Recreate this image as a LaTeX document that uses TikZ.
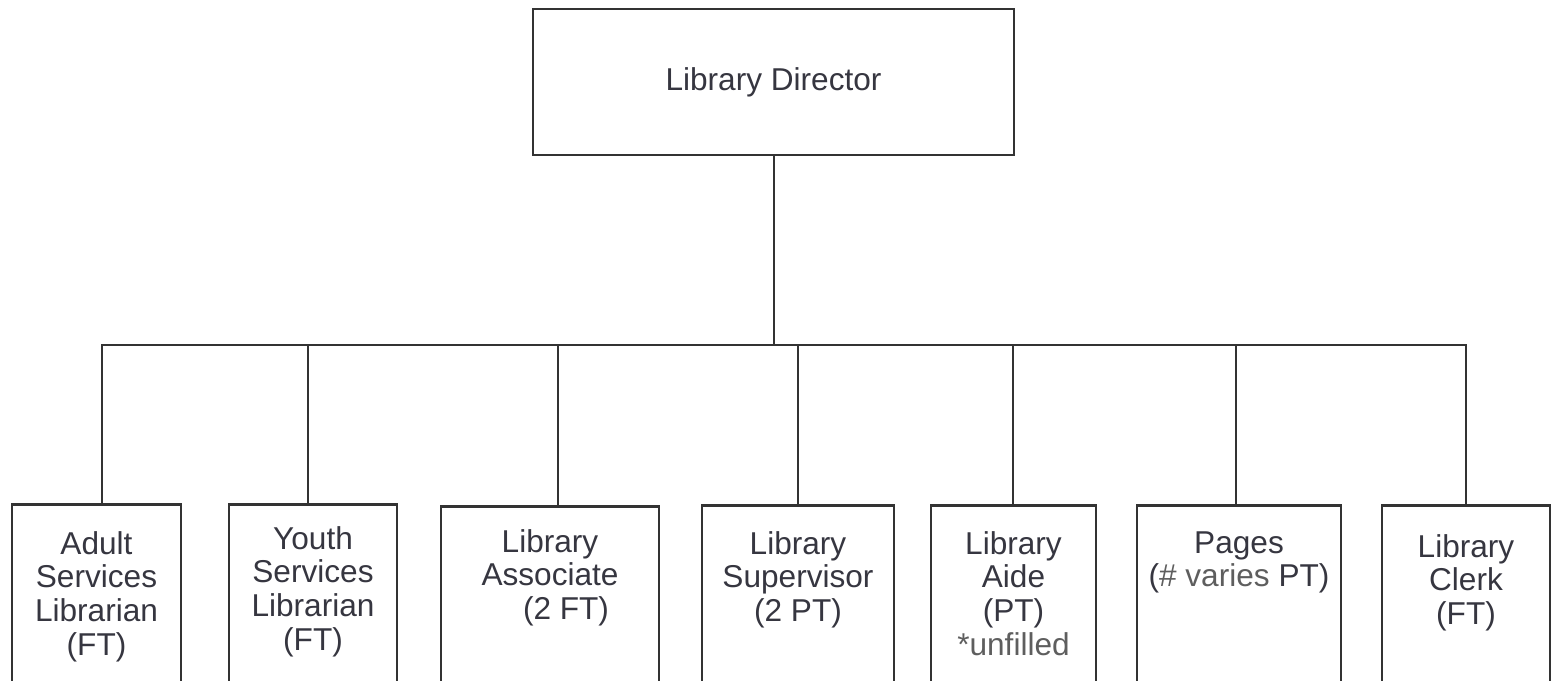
\documentclass[tikz,border=0pt]{standalone}
\usepackage{fontspec}
\setmainfont{Liberation Sans}
\usepackage{xcolor}
\usetikzlibrary{positioning}

\definecolor{linegray}{HTML}{333333}
\definecolor{textgray}{HTML}{363640}
\definecolor{softgray}{HTML}{5E5E5E}

\begin{document}
\begin{tikzpicture}[x=0.5pt,y=-0.5pt,-,line width=1.4pt,
    box/.style={draw=linegray,rectangle,inner sep=0pt},
    staff box/.style={box,anchor=north,minimum height=100pt},
    role/.style={inner sep=0pt,anchor=north,align=center,text=textgray,font=\fontsize{15.8}{16.8}\selectfont}]
    \clip (0,0) rectangle (1551,680);

    % top
    \node[box, minimum width=240.5pt, minimum height=73pt, text=textgray,
          font=\fontsize{15.8}{16.8}\selectfont] (dir) at (773.5,82) {Library Director};

    % staff boxes
    \node[staff box, minimum width=84.5pt] (adult) at (96.5,503) {};
    \node[staff box, minimum width=84pt] (youth) at (313,503) {};
    \node[staff box, minimum width=109pt] (assoc) at (550,505) {};
    \node[staff box, minimum width=96pt] (superv) at (798,504) {};
    \node[staff box, minimum width=82.5pt] (aide) at (1013.5,504) {};
    \node[staff box, minimum width=102pt] (pages) at (1239,504) {};
    \node[staff box, minimum width=84pt] (clerk) at (1466,504) {};

    % labels
    \node[role, below=13.5pt of adult.north] (adulttxt) {Adult\\Services\\Librarian\\(FT)};
    \node[role, below=11pt of youth.north] (youthtxt) {Youth\\Services\\Librarian\\(FT)};
    \node[role, below=11.5pt of assoc.north] (assoctxt) {Library\\Associate\\\hspace*{16pt}(2 FT)};
    \node[role, below=13pt of superv.north] (supervtxt) {Library\\Supervisor\\(2 PT)};
    \node[role, below=13pt of aide.north] (aidetxt) {Library\\Aide\\(PT)\\\textcolor{softgray}{*unfilled}};
    \node[role, below=13pt of pages.north] (pagestxt) {Pages\\(\textcolor{softgray}{\# varies} PT)};
    \node[role, below=14.5pt of clerk.north] (clerktxt) {Library\\Clerk\\(FT)};

    % bus
    \coordinate (top) at (774,345);
    \coordinate (b1) at (102,345);
    \coordinate (b2) at (308,345);
    \coordinate (b3) at (558,345);
    \coordinate (b4) at (798,345);
    \coordinate (b5) at (1013,345);
    \coordinate (b6) at (1236,345);
    \coordinate (b7) at (1466,345);

    \draw[linegray] (b1 |- adult.north) -- (b1) -- (b7) -- (b7 |- clerk.north);
    \path[draw=linegray]
        (top |- dir.south) edge (top)
        (b2) edge (b2 |- youth.north)
        (b3) edge (b3 |- assoc.north)
        (b4) edge (b4 |- superv.north)
        (b5) edge (b5 |- aide.north)
        (b6) edge (b6 |- pages.north)
        ;
\end{tikzpicture}
\end{document}
